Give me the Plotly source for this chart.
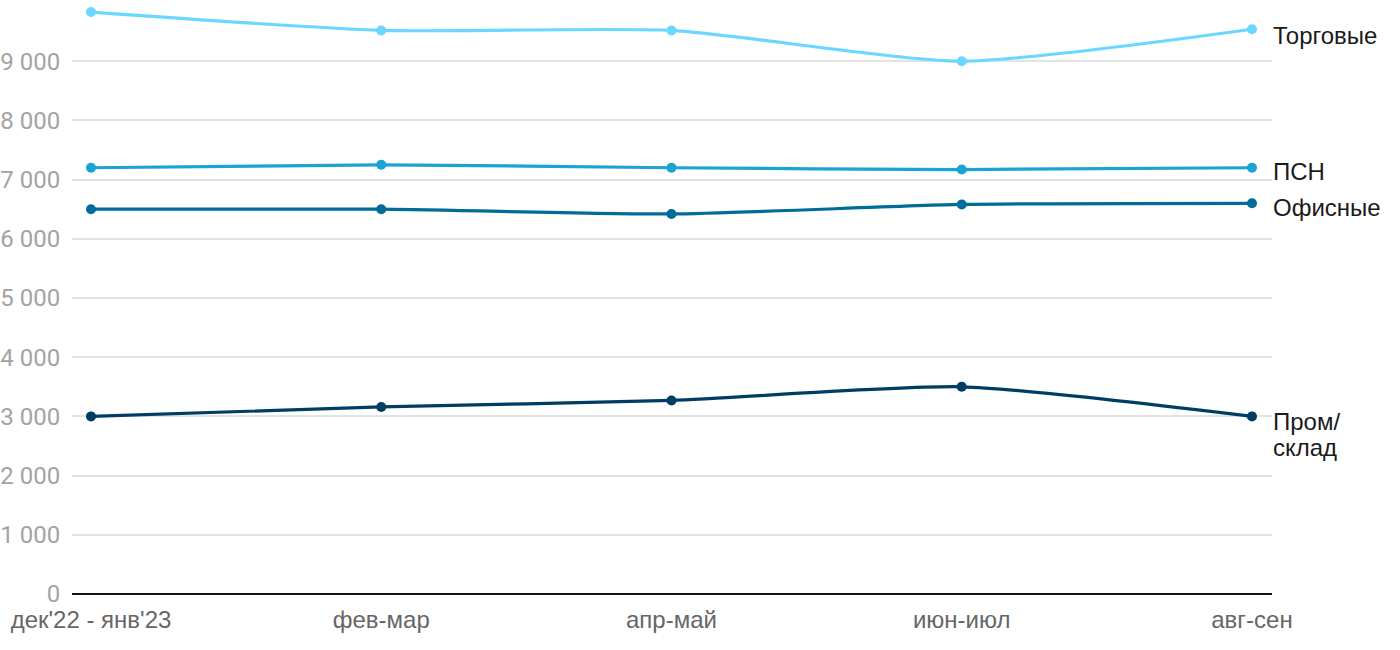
import plotly.graph_objects as go

categories = ["дек'22 - янв'23", "фев-мар", "апр-май", "июн-июл", "авг-сен"]
torgovye = [9830, 9520, 9520, 9000, 9540]
psn = [7200, 7250, 7200, 7170, 7200]
ofisnye = [6500, 6500, 6420, 6580, 6600]
prom = [3000, 3160, 3270, 3500, 3000]

series_names = ["Торговые", "ПСН", "Офисные", "Пром/<br>склад"]
series_values = [torgovye, psn, ofisnye, prom]
colors = ["#69d7ff", "#1aa3d3", "#006c98", "#003d63"]
label_yshift = [-6, -4, -4, -5]

y_tickvals = [0, 1000, 2000, 3000, 4000, 5000, 6000, 7000, 8000, 9000]
y_ticktext = ["0", "1 000", "2 000", "3 000", "4 000", "5 000", "6 000", "7 000", "8 000", "9 000"]

LABEL_FONT = dict(family="Liberation Sans, Arial", size=24, color="#1a1a1a")

fig = go.Figure()
for name, vals, col, ys in zip(series_names, series_values, colors, label_yshift):
    fig.add_trace(go.Scatter(
        x=list(range(len(categories))), y=vals, mode="lines+markers",
        line=dict(color=col, width=3.2, shape="spline", smoothing=0.6),
        marker=dict(color=col, size=10), name=name, showlegend=False,
        hoverinfo="skip"))
    for i, line in enumerate(name.split("<br>")):
        fig.add_annotation(x=len(categories) - 1, y=vals[-1], text=line, showarrow=False,
                           xanchor="left", yanchor="middle", xshift=19, yshift=ys - 26 * i,
                           align="left", font=LABEL_FONT)

fig.update_layout(
    width=1400, height=650,
    margin=dict(l=72, r=128, t=2, b=56, autoexpand=False),
    plot_bgcolor="white", paper_bgcolor="white",
    font=dict(family="Roboto"),
)
fig.update_xaxes(
    range=[-0.0655, 4.069], tickvals=list(range(len(categories))), ticktext=categories,
    showgrid=False, showline=False, zeroline=False, automargin=False,
    ticks="outside", ticklen=4, tickcolor="rgba(0,0,0,0)",
    tickfont=dict(family="Liberation Sans, Arial", size=24, color="#666666"),
)
fig.update_yaxes(
    range=[0, 10000], tickvals=y_tickvals, ticktext=y_ticktext, automargin=False,
    showgrid=True, gridcolor="#e3e3e3", gridwidth=1.5,
    zeroline=True, zerolinecolor="#111111", zerolinewidth=2,
    showline=False, ticks="outside", ticklen=6, tickcolor="rgba(0,0,0,0)",
    tickfont=dict(family="Roboto", size=24, color="#a3a3a3"),
)

fig.write_html("out.html", config={"displayModeBar": False},
               post_script="document.body.style.margin='0';")
